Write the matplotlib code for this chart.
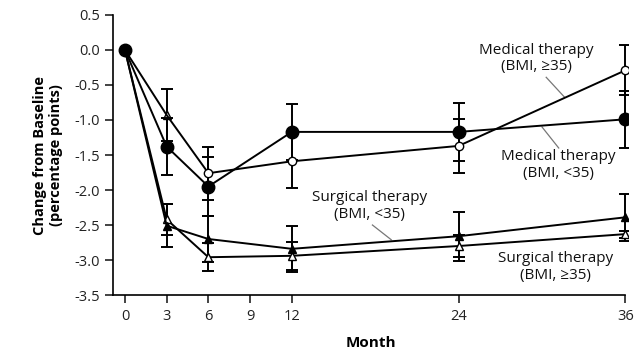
import matplotlib.pyplot as plt
import numpy as np

months = [0, 3, 6, 12, 24, 36]

# change in glycated hemoglobin, percentage points
med_hi = [0.0, -0.93, -1.76, -1.59, -1.37, -0.29]     # medical, BMI >=35
med_hi_err = [0, 0.37, 0.38, 0.38, 0.38, 0.36]
med_lo = [0.0, -1.38, -1.95, -1.17, -1.17, -0.99]     # medical, BMI <35
med_lo_err = [0, 0.41, 0.42, 0.40, 0.41, 0.41]
surg_lo = [0.0, -2.51, -2.70, -2.84, -2.66, -2.39]    # surgical, BMI <35
surg_lo_err = [0, 0.31, 0.33, 0.33, 0.35, 0.34]
surg_hi = [0.0, -2.42, -2.96, -2.94, -2.80, -2.63]    # surgical, BMI >=35
surg_hi_err = [0, 0.22, 0.20, 0.20, 0.16, 0.05]

xticks = [0, 3, 6, 9, 12, 24, 36]
yticks = [0.5, 0.0, -0.5, -1.0, -1.5, -2.0, -2.5, -3.0, -3.5]

plt.rcParams['font.family'] = ['Open Sans', 'DejaVu Sans']

fig = plt.figure(figsize=(6.44, 3.56), dpi=100)
ax = fig.add_axes([0.1755, 0.1713, 0.80, 0.7866])

lw = 1.4
eb = dict(color='black', lw=lw, capsize=4, capthick=lw, elinewidth=lw)

ax.errorbar(months, surg_hi, yerr=surg_hi_err, marker='^', ms=6, mfc='white', mec='black', **eb)
ax.errorbar(months, surg_lo, yerr=surg_lo_err, marker='^', ms=6, mfc='black', mec='black', **eb)
ax.errorbar(months, med_hi, yerr=med_hi_err, marker='o', ms=6, mfc='white', mec='black',
            markevery=[0, 2, 3, 4, 5], **eb)
# the 3-month point of this series is drawn as a triangle in the original
ax.plot(months[1], med_hi[1], marker='^', ms=6, mfc='white', mec='black', ls='none')
ax.errorbar(months, med_lo, yerr=med_lo_err, marker='o', ms=9, mfc='black', mec='black', **eb)

ax.set_xlim(-0.86, 36.2)
ax.set_ylim(-3.5, 0.5)
ax.set_xticks(xticks)
ax.set_yticks(yticks)
ax.set_yticklabels(['%.1f' % v if v != 0 else '0.0' for v in yticks])
for s in ['top', 'right']:
    ax.spines[s].set_visible(False)
for s in ['left', 'bottom']:
    ax.spines[s].set_linewidth(1.2)
ax.spines['bottom'].set_bounds(-0.86, 36)
ax.tick_params(direction='out', length=6, width=1.2, labelsize=10.5, colors='#222222')
ax.tick_params(axis='x', pad=4)

ax.set_xlabel('Month', fontsize=11, fontweight='bold', labelpad=9)
ax.set_ylabel('Change from Baseline\n(percentage points)', fontsize=10.5, fontweight='bold',
              labelpad=8, linespacing=1.15)

kw = dict(ha='center', va='center', fontsize=11, linespacing=1.15, color='#111111')
ax.text(29.6, -0.12, 'Medical therapy\n(BMI, \u226535)', **kw)
ax.text(31.2, -1.64, 'Medical therapy\n(BMI, <35)', **kw)
ax.text(17.6, -2.23, 'Surgical therapy\n(BMI, <35)', **kw)
ax.text(31.0, -3.10, 'Surgical therapy\n(BMI, \u226535)', **kw)

# leader lines
gray = '#777777'
ax.plot([30.3, 31.6], [-0.39, -0.67], color=gray, lw=0.9)
ax.plot([30.0, 31.2], [-1.10, -1.40], color=gray, lw=0.9)
ax.plot([17.8, 19.15], [-2.50, -2.71], color=gray, lw=0.9)

fig.savefig('out.png', dpi=100)
